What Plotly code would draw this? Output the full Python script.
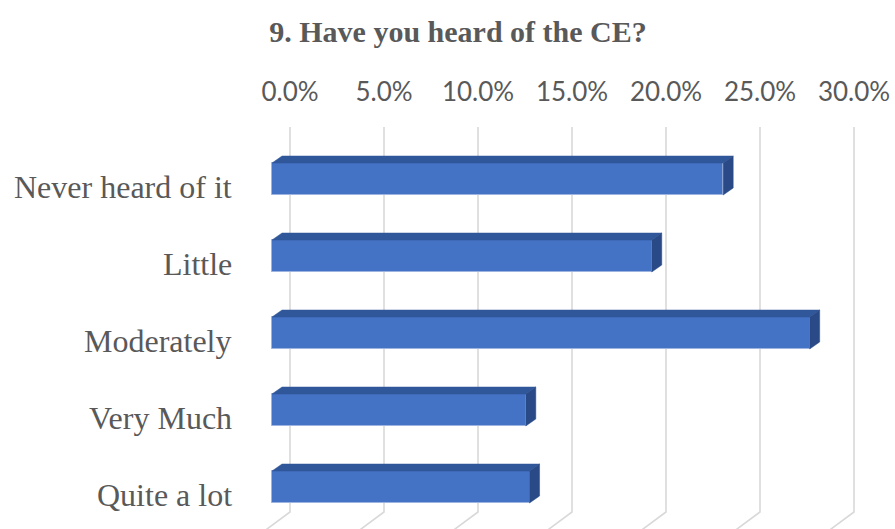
import plotly.graph_objects as go

# Survey answers, top to bottom
categories = ["Never heard of it", "Little", "Moderately", "Very Much", "Quite a lot"]
shares = [24.0, 20.2, 28.6, 13.5, 13.7]          # percent of respondents
tick_values = [0, 5, 10, 15, 20, 25, 30]
tick_labels = ["0.0%", "5.0%", "10.0%", "15.0%", "20.0%", "25.0%", "30.0%"]

W, H = 895, 529
M_L, M_T = 260, 127
PLOT_W, PLOT_H = W - M_L, H - M_T

PX_PER_PCT = 18.8      # horizontal scale (pixels per percentage point)
PX_PER_ROW = 77.0      # vertical spacing between categories
FRONT_ZERO = 272       # x pixel of 0% on the bars' front faces
BACK_ZERO = 290        # x pixel of 0% on the back wall
FIRST_ROW = 179        # y pixel of the first bar's centre

# oblique 3-D look
DEPTH_DX = 10 / PX_PER_PCT          # bar depth, horizontal component (pct units)
DEPTH_DY = 7 / PX_PER_ROW           # bar depth, vertical component (row units)
BAR_W = 32 / PX_PER_ROW             # bar thickness (row units)
WALL_BOTTOM = (512 - FIRST_ROW) / PX_PER_ROW
FLOOR_DY = 60 / PX_PER_ROW
FLOOR_DX = -60 * 1.35 / PX_PER_PCT

rows = list(range(len(categories)))

back_range = [(M_L - BACK_ZERO) / PX_PER_PCT, (W - BACK_ZERO) / PX_PER_PCT]
front_range = [(M_L - FRONT_ZERO) / PX_PER_PCT, (W - FRONT_ZERO) / PX_PER_PCT]
y_range = [(H - FIRST_ROW) / PX_PER_ROW, (M_T - FIRST_ROW) / PX_PER_ROW]

fig = go.Figure()

# back-wall gridlines bending onto the floor
gx, gy = [], []
for v in tick_values:
    gx += [v, v, v + FLOOR_DX, None]
    gy += [y_range[1], WALL_BOTTOM, WALL_BOTTOM + FLOOR_DY, None]
fig.add_trace(go.Scatter(x=gx, y=gy, mode="lines", xaxis="x", yaxis="y",
                         line=dict(color="#d9d9d9", width=1.6),
                         hoverinfo="skip", showlegend=False))

# front faces of the bars
fig.add_trace(go.Bar(x=shares, y=rows, orientation="h", width=BAR_W,
                     xaxis="x2", yaxis="y",
                     marker=dict(color="#4472c4", line=dict(color="#9db4e0", width=1)),
                     showlegend=False))

# top and side faces
tx, ty, sx, sy = [], [], [], []
for r, v in zip(rows, shares):
    top = r - BAR_W / 2
    bot = r + BAR_W / 2
    tx += [0, v, v + DEPTH_DX, DEPTH_DX, 0, None]
    ty += [top, top, top - DEPTH_DY, top - DEPTH_DY, top, None]
    sx += [v, v + DEPTH_DX, v + DEPTH_DX, v, v, None]
    sy += [top, top - DEPTH_DY, bot - DEPTH_DY, bot, top, None]
fig.add_trace(go.Scatter(x=tx, y=ty, mode="lines", fill="toself", xaxis="x2", yaxis="y",
                         fillcolor="#30579a", line=dict(color="#30579a", width=0.5),
                         hoverinfo="skip", showlegend=False))
fig.add_trace(go.Scatter(x=sx, y=sy, mode="lines", fill="toself", xaxis="x2", yaxis="y",
                         fillcolor="#294a86", line=dict(color="#294a86", width=0.5),
                         hoverinfo="skip", showlegend=False))

# category labels
for r, name in zip(rows, categories):
    fig.add_annotation(text=name, x=(234 - M_L) / PLOT_W, xref="paper", xanchor="right",
                       y=r, yref="y", yanchor="middle", yshift=-8, showarrow=False,
                       font=dict(family="Liberation Serif", size=32, color="#595959"))

fig.update_layout(
    width=W, height=H,
    margin=dict(l=M_L, r=0, t=M_T, b=0),
    paper_bgcolor="white", plot_bgcolor="white",
    title=dict(text="<b>9. Have you heard of the CE?</b>", xref="container", yref="container",
               x=458 / W, xanchor="center", y=1 - 31 / H, yanchor="middle",
               font=dict(family="Liberation Serif", size=30, color="#595959")),
    xaxis=dict(range=back_range, side="top", tickvals=tick_values, ticktext=tick_labels,
               showgrid=False, zeroline=False, showline=False, ticks="",
               ticklabelstandoff=20,
               tickfont=dict(family="Lato", size=26, color="#595959")),
    xaxis2=dict(range=front_range, overlaying="x", visible=False),
    yaxis=dict(range=y_range, visible=False),
    bargap=0,
)

fig.write_html("out.html")
